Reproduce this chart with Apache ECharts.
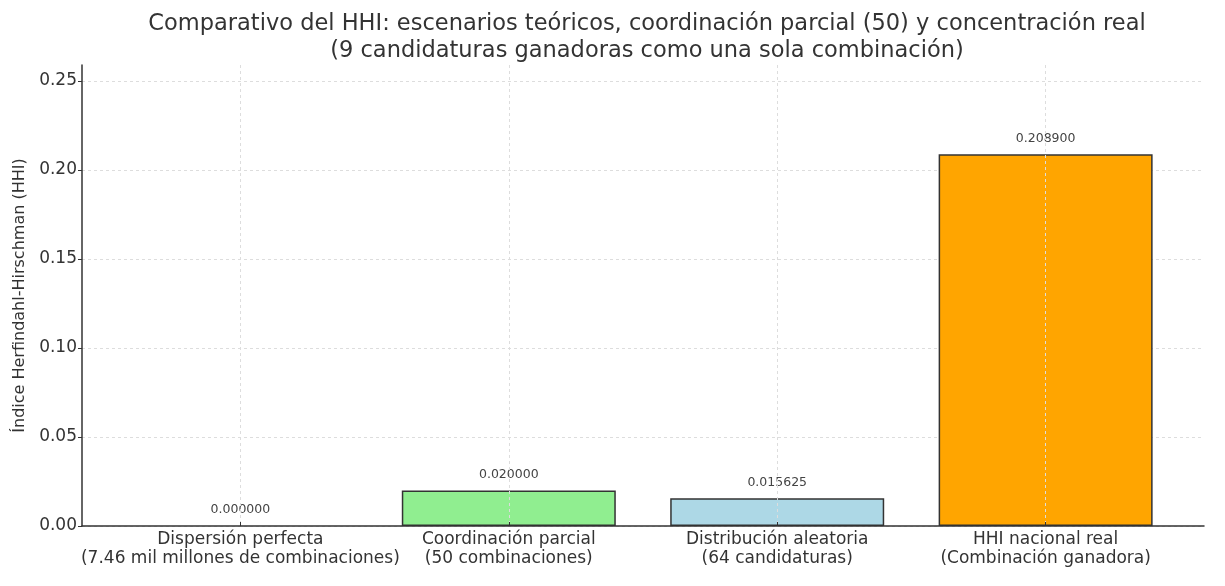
<!DOCTYPE html>
<html>
<head>
<meta charset="utf-8">
<script src="https://cdn.jsdelivr.net/npm/echarts@6/dist/echarts.min.js"></script>
<style>
html,body{margin:0;padding:0;background:#fff;}
#chart{width:1225px;height:586px;}
</style>
</head>
<body>
<div id="chart"></div>
<script>
const categories = [
  "Dispersión perfecta\n(7.46 mil millones de combinaciones)",
  "Coordinación parcial\n(50 combinaciones)",
  "Distribución aleatoria\n(64 candidaturas)",
  "HHI nacional real\n(Combinación ganadora)"
];
const hhiValues = [0.000000, 0.020000, 0.015625, 0.208900];
const valueLabels = ["0.000000", "0.020000", "0.015625", "0.208900"];
const barColors = ["#d3d3d3", "#90ee90", "#add8e6", "#ffa500"];
const yTicks = [0, 0.05, 0.10, 0.15, 0.20, 0.25];
const titleText = "Comparativo del HHI: escenarios teóricos, coordinación parcial (50) y concentración real\n(9 candidaturas ganadoras como una sola combinación)";
const yAxisName = "Índice Herfindahl-Hirschman (HHI)";

const FONT = "DejaVu Sans";
const chart = echarts.init(document.getElementById('chart'));
const positions = categories.map((c, i) => i);

chart.setOption({
  animation: false,
  backgroundColor: '#fff',
  title: {
    text: titleText,
    left: 642, textAlign: 'center', top: 6,
    textStyle: { fontFamily: FONT, fontSize: 22.5, fontWeight: 'normal', color: '#333', lineHeight: 27 }
  },
  grid: { left: 82, right: 21, top: 65, bottom: 60, containLabel: false },
  xAxis: {
    type: 'value', min: -0.59, max: 3.59, z: 5,
    axisLine: { show: true, onZero: false, lineStyle: { color: '#333', width: 1.5 } },
    axisTick: { show: true, customValues: positions, length: 4, inside: true, lineStyle: { color: '#333' } },
    axisLabel: {
      customValues: positions,
      formatter: v => categories[Math.round(v)] || '',
      fontFamily: FONT, fontSize: 17, color: '#333', lineHeight: 19, margin: 4
    },
    splitLine: { show: true, lineStyle: { color: '#ddd', type: [3, 3], width: 1 } }
  },
  yAxis: {
    type: 'value', min: 0, max: 0.259,
    name: yAxisName, nameLocation: 'middle', nameGap: 53, nameRotate: 90,
    nameTextStyle: { fontFamily: FONT, fontSize: 16, color: '#333' },
    axisLine: { show: true, onZero: false, lineStyle: { color: '#333', width: 1.5 } },
    axisTick: { show: true, customValues: yTicks, length: 4, lineStyle: { color: '#333' } },
    axisLabel: {
      customValues: yTicks,
      formatter: v => v.toFixed(2),
      fontFamily: FONT, fontSize: 17, color: '#333', margin: 5
    },
    splitLine: { show: true, lineStyle: { color: '#ddd', type: [3, 3], width: 1 } }
  },
  series: [{
    type: 'bar',
    barWidth: 214,
    data: hhiValues.map((v, i) => ({
      value: [i, v],
      itemStyle: { color: barColors[i], borderColor: v > 0 ? '#333' : 'transparent', borderWidth: 1.5 },
      label: {
        show: true, position: 'top', distance: 9,
        formatter: valueLabels[i],
        fontFamily: FONT, fontSize: 12.5, color: '#444'
      }
    }))
  }]
});
</script>
</body>
</html>
